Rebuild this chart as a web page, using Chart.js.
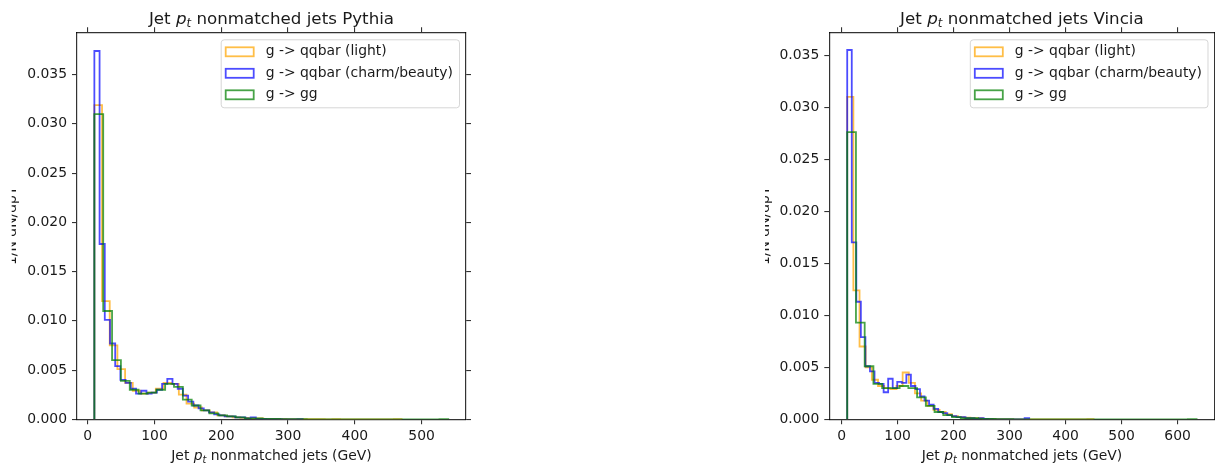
<!DOCTYPE html>
<html>
<head>
<meta charset="utf-8">
<script src="https://cdn.jsdelivr.net/npm/chart.js@4.4.1/dist/chart.umd.min.js"></script>
<style>
  html, body { margin: 0; padding: 0; background: #ffffff; }
  #wrap { position: relative; width: 1215px; height: 465px; overflow: hidden; background: #ffffff; }
  canvas { position: absolute; top: 0; }
  #pythia { left: 0; }
  #vincia { left: 740px; }
</style>
</head>
<body>
<div id="wrap">
  <canvas id="pythia" width="480" height="465"></canvas>
  <canvas id="vincia" width="475" height="465"></canvas>
</div>
<script>
// ---- Histogram contents: 1/N dN/dpT per bin, 40 bins each, first edge at 10 GeV ----
const binStart = 10;
const seriesLabels = ['g -> qqbar (light)', 'g -> qqbar (charm/beauty)', 'g -> gg'];

// Pythia bin widths (GeV): light, charm/beauty, gluon
const pythiaBinWidths = [11.5, 7.8, 13.25];
const pythiaLight = [
  0.0319, 0.0120, 0.0075, 0.0051, 0.0037, 0.0029, 0.0026, 0.0027, 0.0031, 0.0037,
  0.0036, 0.0025, 0.0016, 0.0012, 0.0009, 0.0007, 0.0004, 0.0003, 0.0002, 0.00015,
  0.0001, 0.00008, 0.00005, 0.00005, 0.00003, 0.00002, 0.00002, 0.00001, 0.00001, 0.00001,
  0, 0.00001, 0, 0, 0, 0, 0, 0, 0, 0.00001
];
const pythiaHeavy = [
  0.0374, 0.0178, 0.0101, 0.0077, 0.0054, 0.0040, 0.0037, 0.0031, 0.0026, 0.0029,
  0.0026, 0.0027, 0.0030, 0.0036, 0.0041, 0.0036, 0.0031, 0.0024, 0.0018, 0.0014,
  0.0011, 0.0009, 0.0007, 0.0005, 0.0004, 0.0003, 0.0003, 0.0002, 0.0002, 0.0001,
  0.0002, 0.00005, 0.00003, 0.00002, 0.00001, 0.00001, 0, 0, 0, 0.00001
];
const pythiaGluon = [
  0.0310, 0.0110, 0.0060, 0.0039, 0.0030, 0.0026, 0.0027, 0.0030, 0.0036, 0.0033,
  0.0020, 0.0014, 0.0009, 0.0006, 0.0004, 0.0003, 0.0002, 0.0001, 0.0001, 0.00005,
  0.00003, 0.00002, 0.00001, 0.00001, 0, 0, 0, 0, 0, 0,
  0, 0, 0, 0, 0, 0, 0, 0, 0, 0.00001
];

// Vincia bin widths (GeV): light, charm/beauty, gluon
const vinciaBinWidths = [11.0, 8.125, 15.6];
const vinciaLight = [
  0.0310, 0.0124, 0.0070, 0.0050, 0.0038, 0.0032, 0.0030, 0.0029, 0.0032, 0.0045,
  0.0035, 0.0025, 0.0018, 0.0013, 0.0009, 0.0007, 0.0005, 0.0003, 0.0002, 0.00015,
  0.0001, 0.0001, 0.00005, 0.00003, 0.00002, 0.00002, 0.00001, 0, 0, 0,
  0, 0, 0, 0, 0, 0, 0, 0, 0, 0.00001
];
const vinciaHeavy = [
  0.0355, 0.0170, 0.0113, 0.0079, 0.0051, 0.0046, 0.0035, 0.0034, 0.0026, 0.0039,
  0.0030, 0.0036, 0.0035, 0.0043, 0.0032, 0.0029, 0.0022, 0.0018, 0.0014, 0.0010,
  0.0007, 0.0006, 0.0004, 0.0003, 0.0002, 0.0002, 0.0001, 0.0001, 0.00005, 0.00012,
  0.00003, 0.00002, 0, 0, 0, 0, 0, 0, 0, 0.0001
];
const vinciaGluon = [
  0.0276, 0.0093, 0.0051, 0.0034, 0.0030, 0.0030, 0.0032, 0.0030, 0.0021, 0.0013,
  0.0007, 0.0004, 0.0002, 0.0001, 0.0001, 0.00005, 0.00003, 0.00002, 0.00001, 0,
  0, 0, 0, 0, 0, 0, 0, 0, 0, 0,
  0, 0, 0, 0, 0, 0, 0, 0, 0, 0.00001
];

// ---- Tick labels ----
const pythiaXTicks = [0, 100, 200, 300, 400, 500];
const vinciaXTicks = [0, 100, 200, 300, 400, 500, 600];
const yTicks = [0, 0.005, 0.010, 0.015, 0.020, 0.025, 0.030, 0.035];

// ---- Styling ----
const FONT = "'DejaVu Sans', sans-serif";
const TEXT = '#1a1a1a';
const AXIS = 'rgba(0,0,0,0.8)';
const lineColors = ['rgba(255,165,0,0.72)', 'rgba(0,0,255,0.7)', 'rgba(0,128,0,0.72)'];
const drawOrder = [2, 1, 0];   // gluon on top, light at the back

// Turns bin contents into the outline of a step histogram.
function stepOutline(start, width, values) {
  const pts = [{ x: start, y: 0 }];
  values.forEach((v, i) => pts.push({ x: start + i * width, y: v }));
  const end = start + values.length * width;
  pts.push({ x: end, y: values[values.length - 1] });
  pts.push({ x: end, y: 0 });
  return pts;
}

function makeDatasets(widths, seriesList) {
  return seriesList.map((vals, i) => ({
    label: seriesLabels[i],
    data: stepOutline(binStart, widths[i], vals),
    borderColor: lineColors[i],
    borderWidth: 1.8,
    stepped: true,
    pointRadius: 0,
    pointHoverRadius: 0,
    fill: false,
    tension: 0,
    order: drawOrder[i]
  }));
}

// Draws "Jet p_t ..." with an italic p and a subscript t.
function drawPtText(ctx, before, after, cx, baseline, size) {
  const parts = [
    { t: before, f: `${size}px ${FONT}`, dy: 0 },
    { t: 'p', f: `italic ${size}px ${FONT}`, dy: 0 },
    { t: 't', f: `italic ${size * 0.7}px ${FONT}`, dy: size * 0.2 },
    { t: after, f: `${size}px ${FONT}`, dy: 0 }
  ];
  let total = 0;
  parts.forEach(p => { ctx.font = p.f; p.w = ctx.measureText(p.t).width; total += p.w; });
  let x = cx - total / 2;
  ctx.fillStyle = TEXT;
  ctx.textAlign = 'left';
  ctx.textBaseline = 'alphabetic';
  parts.forEach(p => { ctx.font = p.f; ctx.fillText(p.t, x, baseline + p.dy); x += p.w; });
}

function roundRect(ctx, x, y, w, h, r) {
  ctx.beginPath();
  ctx.moveTo(x + r, y);
  ctx.lineTo(x + w - r, y);
  ctx.arcTo(x + w, y, x + w, y + r, r);
  ctx.lineTo(x + w, y + h - r);
  ctx.arcTo(x + w, y + h, x + w - r, y + h, r);
  ctx.lineTo(x + r, y + h);
  ctx.arcTo(x, y + h, x, y + h - r, r);
  ctx.lineTo(x, y + r);
  ctx.arcTo(x, y, x + r, y, r);
  ctx.closePath();
}

// Panel decorations: title, axis labels and the in-axes legend.
const panelText = {
  id: 'panelText',
  afterDraw(chart, args, opts) {
    const ctx = chart.ctx;
    const a = chart.chartArea;
    const cx = (a.left + a.right) / 2;
    ctx.save();
    drawPtText(ctx, 'Jet ', ' nonmatched jets ' + opts.generator, cx, 24, 16.7);
    drawPtText(ctx, 'Jet ', ' nonmatched jets (GeV)', cx, 460, 13.9);

    // y-axis label, partly hidden behind its left margin
    ctx.save();
    ctx.beginPath();
    ctx.rect(opts.yLabelClip, 0, 200, chart.height);
    ctx.clip();
    ctx.translate(opts.yLabelBase, (a.top + a.bottom) / 2);
    ctx.rotate(-Math.PI / 2);
    ctx.font = `13.9px ${FONT}`;
    ctx.fillStyle = TEXT;
    ctx.textAlign = 'center';
    ctx.textBaseline = 'alphabetic';
    ctx.fillText('1/N dN/dpT', 0, 0);
    ctx.restore();

    // legend
    const lx = a.right - opts.legendWidth - 7, ly = a.top + 7;
    const rowH = 21.5;
    roundRect(ctx, lx + 0.5, ly + 0.5, opts.legendWidth, 68, 3);
    ctx.fillStyle = 'rgba(255,255,255,0.8)';
    ctx.fill();
    ctx.strokeStyle = 'rgba(204,204,204,0.8)';
    ctx.lineWidth = 1;
    ctx.stroke();
    ctx.font = `13.9px ${FONT}`;
    ctx.textAlign = 'left';
    ctx.textBaseline = 'middle';
    chart.data.datasets.forEach((ds, i) => {
      const cy = ly + 12.5 + i * rowH;
      ctx.strokeStyle = ds.borderColor;
      ctx.lineWidth = 1.8;
      ctx.strokeRect(lx + 5, cy - 4.5, 28, 9);
      ctx.fillStyle = TEXT;
      ctx.fillText(ds.label, lx + 45, cy);
    });
    ctx.restore();
  }
};

function axisPair(ticks, min, max, fmt, position, size, showLabels) {
  const horizontal = position === 'bottom' || position === 'top';
  return {
    type: 'linear',
    position: position,
    min: min,
    max: max,
    afterBuildTicks: s => { s.ticks = ticks.map(v => ({ value: v })); },
    afterFit: s => { if (horizontal) { s.height = size; } else { s.width = size; } },
    ticks: {
      display: showLabels,
      autoSkip: false,
      maxRotation: 0,
      color: TEXT,
      padding: horizontal ? 3.5 : 5,
      font: { family: FONT, size: 13.9 },
      callback: fmt
    },
    grid: {
      display: true,
      drawOnChartArea: false,
      drawTicks: true,
      tickLength: 5,
      tickColor: AXIS,
      lineWidth: 1.1
    },
    border: { display: true, color: AXIS, width: 1.2 }
  };
}

function makePanel(canvasId, generator, widths, seriesList, xTicks, xMin, xMax, yMax, geom) {
  const fmtX = v => String(v);
  const fmtY = v => v.toFixed(3);
  return new Chart(document.getElementById(canvasId), {
    type: 'line',
    data: { datasets: makeDatasets(widths, seriesList) },
    plugins: [panelText],
    options: {
      responsive: false,
      animation: false,
      events: [],
      layout: { padding: { left: 0, top: geom.padTop, right: geom.padRight, bottom: 0 } },
      plugins: {
        legend: { display: false },
        tooltip: { enabled: false },
        title: { display: false },
        panelText: {
          generator: generator,
          legendWidth: geom.legendWidth,
          yLabelClip: geom.yLabelClip,
          yLabelBase: geom.yLabelBase
        }
      },
      scales: {
        x: axisPair(xTicks, xMin, xMax, fmtX, 'bottom', geom.bottom, true),
        x2: axisPair(xTicks, xMin, xMax, fmtX, 'top', 4, false),
        y: axisPair(yTicks, 0, yMax, fmtY, 'left', geom.left, true),
        y2: axisPair(yTicks, 0, yMax, fmtY, 'right', geom.right, false)
      }
    }
  });
}

makePanel('pythia', 'Pythia', pythiaBinWidths, [pythiaLight, pythiaHeavy, pythiaGluon],
  pythiaXTicks, -16, 566.5, 0.0393,
  { left: 77, bottom: 45.7, right: 5, padTop: 28.3, padRight: 9,
    legendWidth: 238.3, yLabelClip: 11.7, yLabelBase: 15.6 });

makePanel('vincia', 'Vincia', vinciaBinWidths, [vinciaLight, vinciaHeavy, vinciaGluon],
  vinciaXTicks, -22, 666, 0.0372,
  { left: 89.3, bottom: 45.7, right: 0.5, padTop: 28.3, padRight: 0,
    legendWidth: 237.7, yLabelClip: 25, yLabelBase: 29 });
</script>
</body>
</html>
